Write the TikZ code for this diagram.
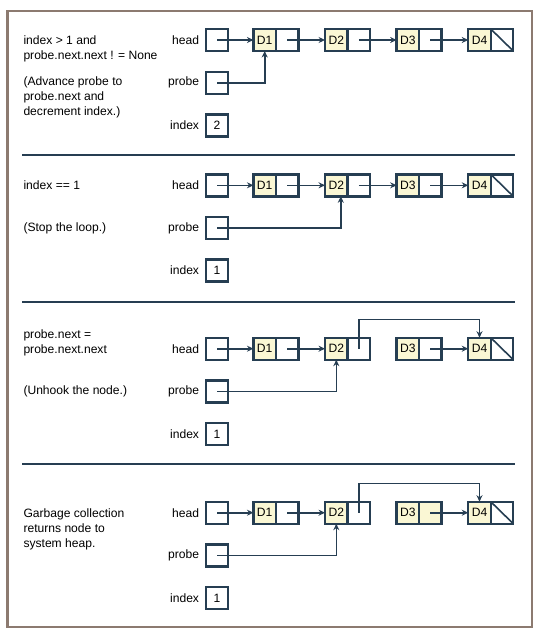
\documentclass[tikz,border=0pt]{standalone}
\usepackage{fontspec}
\setmainfont{Liberation Sans}
\usetikzlibrary{positioning,arrows.meta}

\definecolor{inkcol}{RGB}{38,62,82}
\definecolor{datafill}{RGB}{250,247,212}
\definecolor{framecol}{RGB}{140,122,112}

\tikzset{
  every node/.style={font=\fontsize{12.1}{15}\selectfont},
  cellbox/.style={draw=inkcol, line width=2.4pt, minimum width=22.5pt,
                  minimum height=22pt, inner sep=0pt, outer sep=0pt},
  ptrcell/.style={cellbox, fill=white},
  datacell/.style={cellbox, fill=datafill},
  varlab/.style={inner sep=0pt},
  note/.style={inner sep=0pt, anchor=base west, align=left},
  ptr/.style={draw=inkcol, line width=1.6pt, -{Stealth[length=6.5pt,width=6pt]}},
  rule/.style={draw=inkcol, line width=1.8pt},
}

\begin{document}
\begin{tikzpicture}[x=1pt,y=-1pt]

      \useasboundingbox (0,0) rectangle (544,637);
      %Frame
      \draw [framecol, line width=2.4pt] (7.5,10.7) rectangle (532,627);
      %Separators
      \foreach \ypos in {155, 301.7, 464.3} {
        \draw [rule] (22,\ypos) -- (515,\ypos);
      }

      %Variables and list, same in every panel
      \foreach \p/\ypos/\idx in {1/40/2, 2/185.3/1, 3/348.7/1, 4/512.7/1} {
        \node [ptrcell] (hd\p) at (217,\ypos) {};
        \node [ptrcell] (pr\p) at (217,\ypos+42.7) {};
        \node [ptrcell] (ix\p) at (217,\ypos+85.3) {\idx};
        \node [varlab, left=6.5pt of hd\p] (hdl\p) {head};
        \node [varlab, left=6.5pt of pr\p] (prl\p) {probe};
        \node [varlab, left=6.5pt of ix\p] (ixl\p) {index};
        \foreach \k/\xpos in {1/264.7, 2/336.3, 3/407.9, 4/479.5} {
          \ifnum\p\k=43 \def\nfill{datafill}\else\def\nfill{white}\fi
          \node [datacell] (d\p\k) at (\xpos,\ypos) {D\k};
          \node [cellbox, fill=\nfill, right=0pt of d\p\k] (n\p\k) {};
        }
        \draw [ptr] (hd\p.center) -- (d\p1);
        \draw [ptr] (n\p1.center) -- (d\p2);
        \draw [ptr] (n\p3.center) -- (d\p4);
        %None
        \draw [inkcol, line width=1.6pt] (n\p4.north west) -- (n\p4.south east);
      }

      %Advance probe
      \node [note, yshift=-15pt] (c1) at (23.3,0 |- hdl1.base) {index > 1 and\\probe.next.next ! = None};
      \node [note, yshift=-30pt] (e1) at (23.3,0 |- prl1.base) {(Advance probe to\\probe.next and\\decrement index.)};
      \draw [ptr] (n12.center) -- (d13);
      \draw [ptr] (pr1.center) -| (d11);

      %Stop
      \node [note] (c2) at (23.3,0 |- hdl2.base) {index == 1};
      \node [note] (e2) at (23.3,0 |- prl2.base) {(Stop the loop.)};
      \draw [ptr] (n22.center) -- (d23);
      \draw [ptr] (pr2.center) -| ([xshift=4.5pt]d22.south);

      %Unhook
      \node [note] (c3) at (23.3,0 |- hdl3.base) {probe.next =\\probe.next.next};
      \node [note] (e3) at (23.3,0 |- prl3.base) {(Unhook the node.)};

      %Garbage collection
      \node [note, yshift=-30pt] (c4) at (23.3,0 |- hdl4.base) {Garbage collection\\returns node to\\system heap.};

      %D3 skipped in the last two panels
      \foreach \p in {3,4} {
        \draw [ptr] (pr\p.center) -| (d\p2);
        \draw [ptr] (n\p2.center) -- ++(0,-29.4) -| (d\p4);
      }
\end{tikzpicture}
\end{document}
